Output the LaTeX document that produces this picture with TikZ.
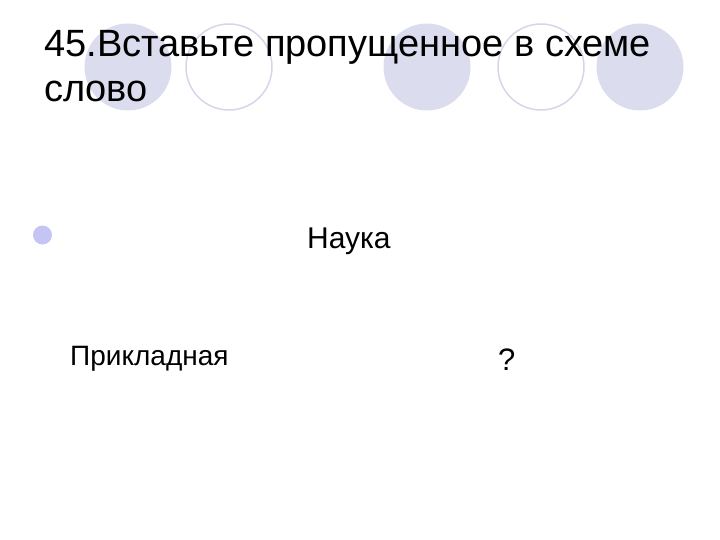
\documentclass[tikz,border=0pt]{standalone}
\usepackage{fontspec}
\setmainfont{Liberation Sans}
\definecolor{circlefill}{HTML}{DCDCEF}
\definecolor{circleline}{HTML}{D6D6EA}
\definecolor{bulletfill}{HTML}{C4C4F5}
\tikzset{
  word/.style={anchor=base west, inner sep=0pt, font=\fontsize{#1}{#1}\selectfont},
  titleline/.style={anchor=base west, inner sep=0pt, font=\fontsize{38}{45}\selectfont}
}
\begin{document}
\begin{tikzpicture}[x=1pt, y=-1pt]
    \useasboundingbox (0,0) rectangle (720,540);

        % Declare the circles
        \foreach \cx in {128, 427, 640}
            \fill[circlefill] (\cx, 67) circle (43.5pt);
        \foreach \cx in {229, 541}
            \draw[circleline, line width=1.5pt] (\cx, 67) circle (43pt);

        % Declare the title
        \node[titleline] at (44, 57) (title1) {45.Вставьте пропущенное в схеме};
        \node[titleline] at (44, 102) (title2) {слово};

        % Declare the bullet
        \fill[bulletfill] (42.5, 235) circle (9.5pt);

        % Declare the words
        \node[word=30] at (307, 248) (nauka) {Наука};
        \node[word=28] at (70, 365) (prikl) {Прикладная};
        \node[word=31] at (498, 370) (quest) {?};

\end{tikzpicture}
\end{document}
